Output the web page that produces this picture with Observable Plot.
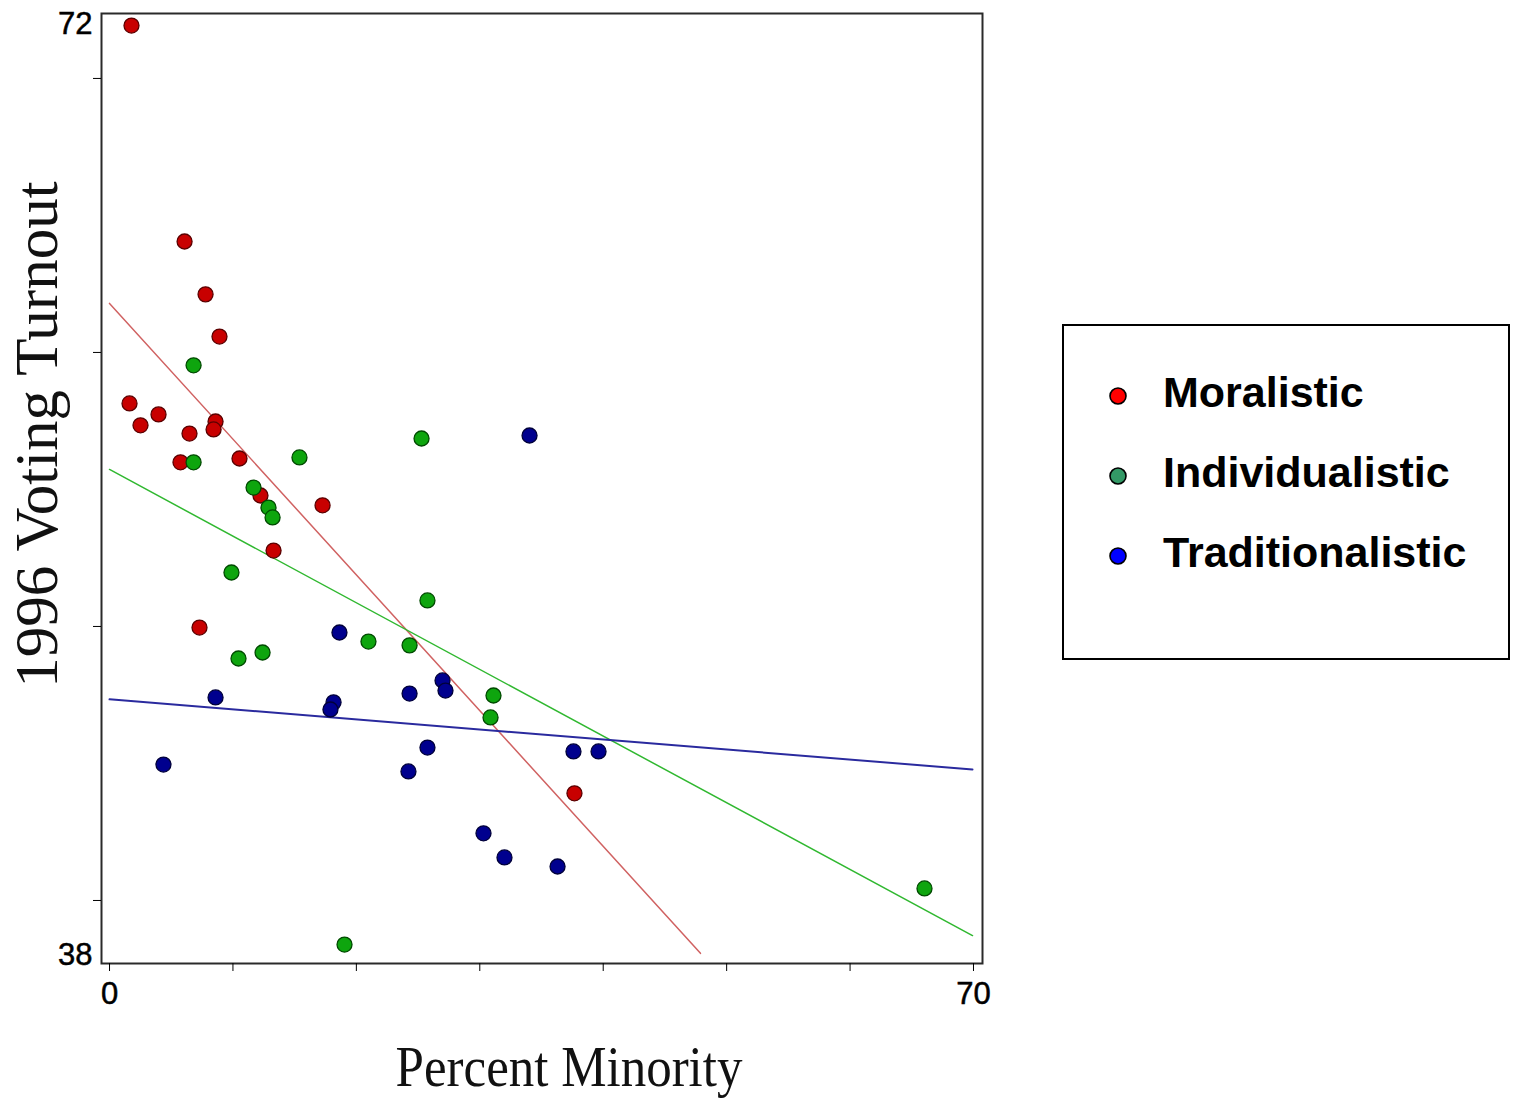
<!DOCTYPE html>
<html>
<head>
<meta charset="utf-8">
<script src="https://cdn.jsdelivr.net/npm/d3@7"></script>
<script src="https://cdn.jsdelivr.net/npm/@observablehq/plot@0.6"></script>
<style>
  html, body { margin: 0; padding: 0; background: #fff; }
  #wrap { position: relative; width: 1522px; height: 1102px; overflow: hidden; background: #fff; }
  #chart { position: absolute; left: 0; top: 0; }
  #legend { position: absolute; left: 1062px; top: 324px; }
  #chart svg g[aria-label="y-axis tick label"] text,
  #chart svg g[aria-label="x-axis tick label"] text { paint-order: stroke; stroke: #000; stroke-width: 0.5px; }
</style>
</head>
<body>
<div id="wrap">
  <div id="chart"></div>
  <div id="legend"></div>
</div>
<script>
// ---- Data ----
const categories = ["Moralistic", "Individualistic", "Traditionalistic"];

const moralisticX = [1.78, 6.08, 7.78, 8.91, 1.62, 2.51, 3.97, 6.48, 8.59, 8.43, 5.75, 10.53, 12.23, 17.26, 13.29, 7.29, 37.67];
const moralisticY = [71.93, 64.05, 62.12, 60.58, 58.14, 57.34, 57.74, 57.04, 57.48, 57.19, 55.99, 56.13, 54.78, 54.42, 52.77, 49.96, 43.91];

const individualisticX = [6.81, 6.81, 15.39, 25.28, 11.67, 12.88, 13.21, 9.88, 25.76, 20.98, 24.31, 10.45, 12.40, 31.11, 30.87, 19.04, 66.03];
const individualisticY = [59.53, 55.99, 56.17, 56.86, 55.07, 54.34, 53.98, 51.97, 50.95, 49.45, 49.31, 48.83, 49.05, 47.48, 46.68, 38.39, 40.44];

const traditionalisticX = [34.03, 18.63, 8.59, 18.15, 17.90, 26.98, 27.22, 24.31, 4.37, 25.76, 24.22, 37.59, 39.62, 30.30, 32.00, 36.30];
const traditionalisticY = [56.97, 49.78, 47.41, 47.23, 46.97, 48.03, 47.66, 47.55, 44.96, 45.58, 44.71, 45.44, 45.44, 42.45, 41.57, 41.24];

// fitted regression lines (end points)
const moralisticFitX = [0, 47.88];
const moralisticFitY = [61.79, 38.07];
const individualisticFitX = [0, 69.92];
const individualisticFitY = [55.73, 38.72];
const traditionalisticFitX = [0, 69.92];
const traditionalisticFitY = [47.34, 44.78];

const xTicks = [0, 10, 20, 30, 40, 50, 60, 70];
const xTickLabels = ["0", "", "", "", "", "", "", "70"];
const yTicks = [40, 50, 60, 70];
const yLabelTicks = [38, 72];

const xTitle = "Percent Minority";
const yTitle = "1996 Voting Turnout";

// styles
const dotFill = ["#c80000", "#0ea50e", "#00008e"];
const dotStroke = ["#5a0000", "#004a00", "#00003a"];
const lineColor = ["#d06262", "#30b830", "#2a2a9e"];
const lineWidth = [1.5, 1.5, 2];
const legendFill = ["#ff0000", "#339966", "#0000ff"];

// ---- Build tables ----
const seriesX = [moralisticX, individualisticX, traditionalisticX];
const seriesY = [moralisticY, individualisticY, traditionalisticY];
const fitX = [moralisticFitX, individualisticFitX, traditionalisticFitX];
const fitY = [moralisticFitY, individualisticFitY, traditionalisticFitY];

const points = categories.map((c, k) => seriesX[k].map((x, i) => ({group: c, x, y: seriesY[k][i]})));
const fits = categories.map((c, k) => fitX[k].map((x, i) => ({group: c, x, y: fitY[k][i]})));

const serif = "'Liberation Serif', 'Times New Roman', Times, serif";
const sans = "'Liberation Sans', Arial, Helvetica, sans-serif";

const marks = [
  Plot.frame({stroke: "#2a2a2a", strokeWidth: 2}),
  Plot.axisX({ticks: xTicks, tickSize: 8, tickPadding: 10, fontSize: 31, label: null,
    tickFormat: d => xTickLabels[xTicks.indexOf(d)] ?? ""}),
  Plot.axisY({ticks: yTicks, tickSize: 8, tickFormat: () => "", label: null}),
  Plot.axisY({ticks: yLabelTicks, tickSize: 0, tickPadding: 9, fontSize: 31, label: null, tickFormat: d => String(d)})
];
categories.forEach((c, k) => {
  marks.push(Plot.line(fits[k], {x: "x", y: "y", stroke: lineColor[k], strokeWidth: lineWidth[k]}));
});
categories.forEach((c, k) => {
  marks.push(Plot.dot(points[k], {x: "x", y: "y", r: 7.5, fill: dotFill[k], stroke: dotStroke[k], strokeWidth: 1.3}));
});
marks.push(
  Plot.text([xTitle], {text: d => d, frameAnchor: "bottom", textAnchor: "middle", dx: 27, dy: 104, fontFamily: serif, fontSize: 51, fill: "#111", lineAnchor: "middle"}),
  Plot.text([yTitle], {text: d => d, frameAnchor: "left", textAnchor: "middle", rotate: -90, dx: -64, dy: -54, fontFamily: serif, fontSize: 61, fill: "#111", lineAnchor: "middle"})
);

const chart = Plot.plot({
  width: 1522,
  height: 1102,
  marginLeft: 101,
  marginRight: 540,
  marginTop: 13,
  marginBottom: 139,
  style: {background: "transparent", color: "#000", fontFamily: sans},
  x: {domain: [-0.65, 70.73], label: null},
  y: {domain: [37.70, 72.37], label: null},
  marks
});
document.getElementById("chart").appendChild(chart);

// stretch the x title vertically (condensed serif look)
d3.select(chart).selectAll("text").each(function() {
  if (this.textContent === xTitle) {
    this.setAttribute("transform", (this.getAttribute("transform") || "") + " scale(1,1.12)");
  }
});

// ---- Legend ----
const lw = 448, lh = 336;
const leg = d3.select("#legend").append("svg")
  .attr("width", lw).attr("height", lh)
  .style("display", "block");
leg.append("rect").attr("x", 1).attr("y", 1).attr("width", lw - 2).attr("height", lh - 2)
  .attr("fill", "#fff").attr("stroke", "#000").attr("stroke-width", 2);
const rows = leg.selectAll("g.row").data(categories).join("g")
  .attr("transform", (d, i) => `translate(0, ${72 + i * 80})`);
rows.append("circle").attr("cx", 56).attr("cy", 0).attr("r", 8)
  .attr("fill", (d, i) => legendFill[i]).attr("stroke", "#000").attr("stroke-width", 1.6);
rows.append("text").attr("x", 101).attr("y", 11)
  .attr("font-family", sans).attr("font-weight", "bold").attr("font-size", 43)
  .attr("fill", "#000").text(d => d);
</script>
</body>
</html>
